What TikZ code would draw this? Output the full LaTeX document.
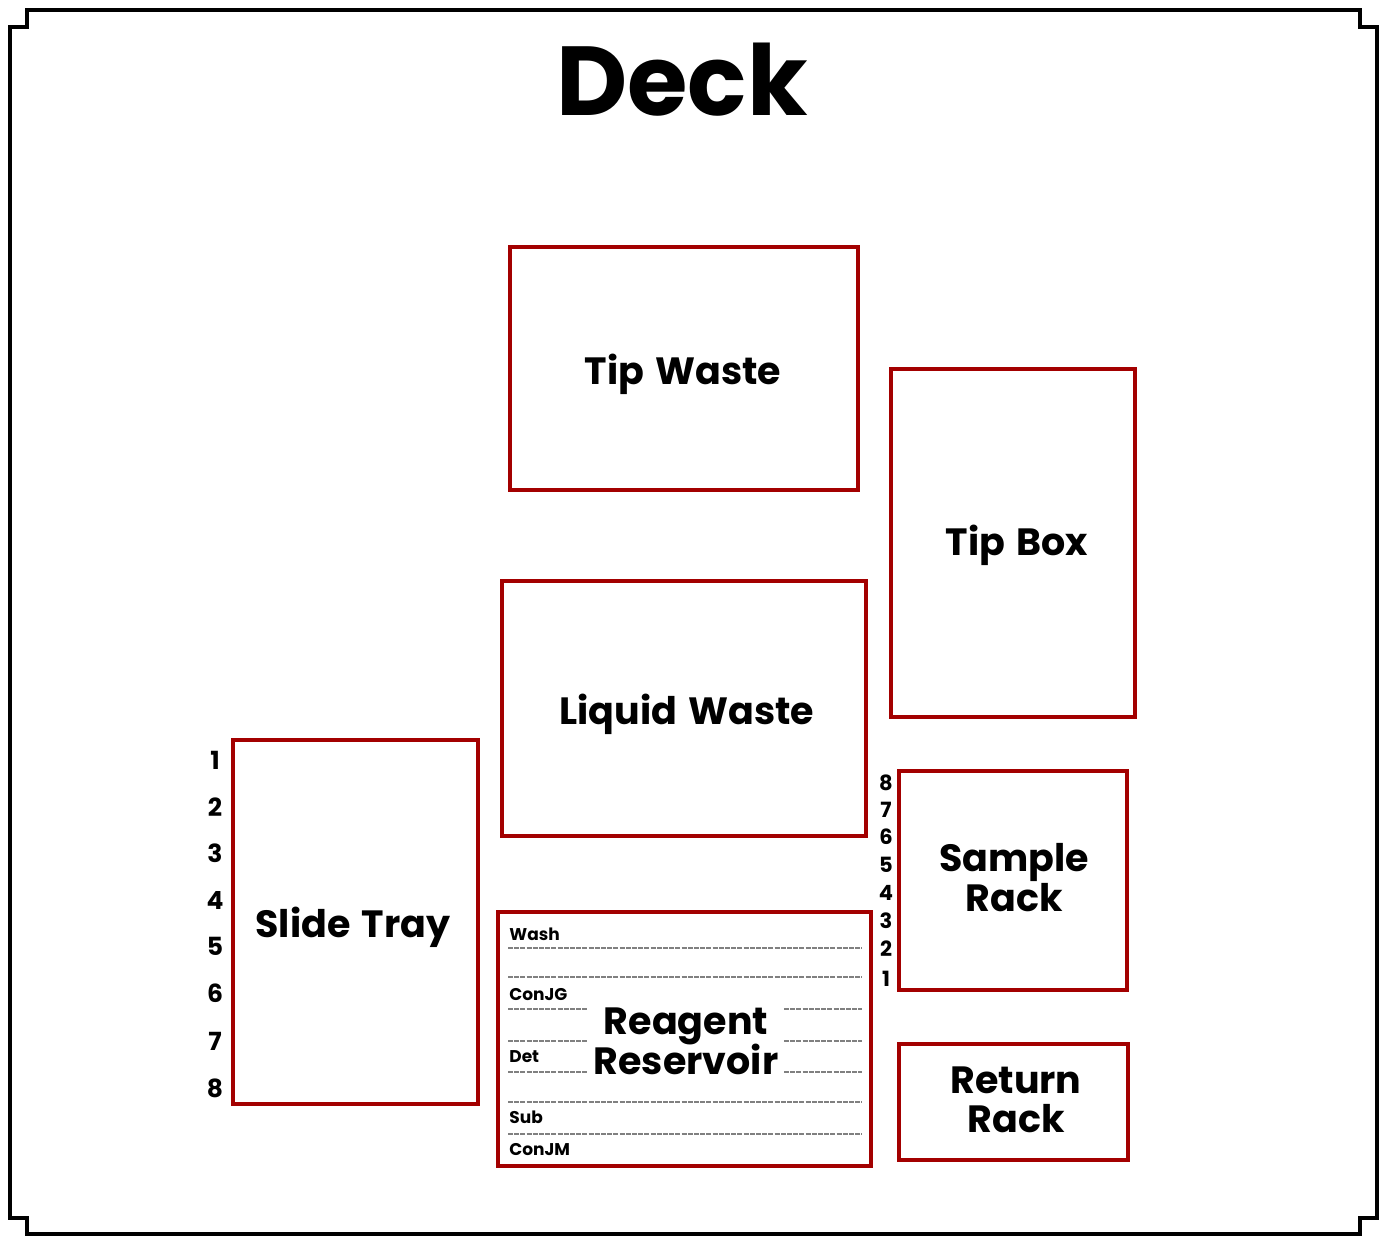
\documentclass[tikz,border=0pt]{standalone}
\usepackage{fontspec}
\setmainfont{Poppins}[WordSpace={1.4}]
\definecolor{boxred}{RGB}{163,0,0}
\begin{document}
\begin{tikzpicture}[x=0.5pt,y=-0.5pt,
  deckbox/.style={draw=boxred,line width=1.6pt,inner sep=0pt,fill=white},
  lbl/.style={font=\fontsize{19pt}{21pt}\selectfont\bfseries,inner sep=0pt,anchor=base},
  num/.style={font=\fontsize{12.5pt}{14pt}\selectfont\bfseries,inner sep=0pt},
  snum/.style={font=\fontsize{10.5pt}{12pt}\selectfont\bfseries,inner sep=0pt},
  rlbl/.style={font=\fontsize{8.5pt}{10pt}\selectfont\bfseries,inner sep=0pt,anchor=base west},
  dline/.style={draw=black!50,line width=0.55pt,dash pattern=on 2.5pt off 0.6pt}]
\useasboundingbox (0,0) rectangle (1386,1245);
% outer frame
\draw[line width=2pt,line join=miter] (27,10) -- (1360,10) -- (1360,27) -- (1377,27) -- (1377,1218) -- (1360,1218) -- (1360,1234) -- (27,1234) -- (27,1218) -- (10,1218) -- (10,27) -- (27,27) -- cycle;
\node[font=\fontsize{49pt}{56pt}\selectfont\bfseries,inner sep=0pt,anchor=base] (title) at (682,116) {Deck};
% boxes
\node[deckbox,minimum width=174pt,minimum height=121.5pt] (tipwaste) at (684,368.5) {};
\node[deckbox,minimum width=122pt,minimum height=174pt] (tipbox) at (1013,543) {};
\node[deckbox,minimum width=182pt,minimum height=127.5pt] (liquid) at (684,708.5) {};
\node[deckbox,minimum width=122.5pt,minimum height=182pt] (slide) at (355.5,922) {};
\node[deckbox,minimum width=114pt,minimum height=109.5pt] (sample) at (1013,880.5) {};
\node[deckbox,minimum width=114.5pt,minimum height=58pt] (return) at (1013.5,1102) {};
\node[deckbox,minimum width=186.5pt,minimum height=127pt] (reagent) at (684.5,1039) {};
% labels
\node[lbl] (tipwasteL) at (683,385) {Tip Waste};
\node[lbl] (tipboxL) at (1017,555) {Tip Box};
\node[lbl] (liquidL) at (687,724) {Liquid Waste};
\node[lbl] (slideL) at (353,937) {Slide Tray};
\node[lbl] (sampleL1) at (1014,871) {Sample};
\node[lbl] (sampleL2) at (1014,911) {Rack};
\node[lbl] (returnL1) at (1016,1093) {Return};
\node[lbl] (returnL2) at (1016,1132) {Rack};
% reagent reservoir internals
\draw[dline] (508,948) -- (862,948);
\draw[dline] (508,977) -- (862,977);
\draw[dline] (508,1009) -- (587,1009);
\draw[dline] (784,1009) -- (862,1009);
\draw[dline] (508,1041) -- (587,1041);
\draw[dline] (784,1041) -- (862,1041);
\draw[dline] (508,1072) -- (587,1072);
\draw[dline] (784,1072) -- (862,1072);
\draw[dline] (508,1102) -- (862,1102);
\draw[dline] (508,1134) -- (862,1134);
\node[lbl] (reagentL1) at (686,1034) {Reagent};
\node[lbl] (reagentL2) at (686,1074) {Reservoir};
\node[rlbl] (wash) at (509,940) {Wash};
\node[rlbl] (conjg) at (509,1000) {ConJG};
\node[rlbl] (det) at (509,1062) {Det};
\node[rlbl] (sub) at (509,1123) {Sub};
\node[rlbl] (conjm) at (509,1155) {ConJM};
% slide tray numbers
\foreach \n/\y in {1/760,2/807,3/853,4/900,5/946,6/993,7/1041,8/1088}
  \node[num] (st\n) at (215,\y) {\n};
% sample rack numbers
\foreach \n/\y in {8/783,7/810,6/837,5/865,4/893,3/921,2/949,1/979}
  \node[snum] (sr\n) at (886,\y) {\n};
\end{tikzpicture}
\end{document}
